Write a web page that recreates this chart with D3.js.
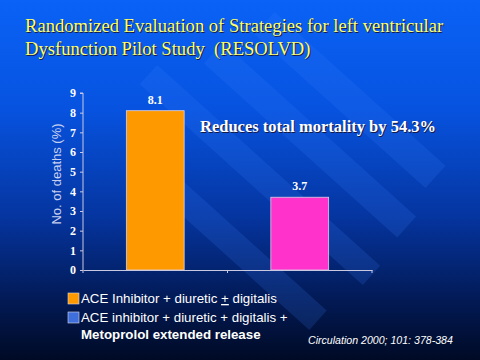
<!DOCTYPE html>
<html>
<head>
<meta charset="utf-8">
<script src="https://cdn.jsdelivr.net/npm/d3@7"></script>
<style>
  body { margin: 0; background: #000; }
  svg { display: block; }
  .serif { font-family: "Liberation Serif", "DejaVu Serif", serif; }
  .sans { font-family: "Liberation Sans", Arial, sans-serif; }
</style>
</head>
<body>
<div id="chart"></div>
<script>
var width = 480,
    height = 360;

// data
var categories = ["ACE Inhibitor + diuretic + digitalis", "ACE inhibitor + diuretic + digitalis + Metoprolol extended release"];
var deaths = [8.1, 3.7];
var barColors = ["#ff9900", "#ff33cc"];
var legendColors = ["#ff9900", "#3f6fdc"];
var yTicks = [0, 1, 2, 3, 4, 5, 6, 7, 8, 9];

var svg = d3.select("#chart").append("svg")
    .attr("width", width)
    .attr("height", height);

var defs = svg.append("defs");
var bg = defs.append("linearGradient")
    .attr("id", "bg")
    .attr("x1", 0).attr("y1", 0).attr("x2", 0).attr("y2", 1);
bg.append("stop").attr("offset", "0%").attr("stop-color", "#0a62f6");
bg.append("stop").attr("offset", "30%").attr("stop-color", "#0753e0");
bg.append("stop").attr("offset", "60%").attr("stop-color", "#0535a0");
bg.append("stop").attr("offset", "85%").attr("stop-color", "#021850");
bg.append("stop").attr("offset", "100%").attr("stop-color", "#000a25");

svg.append("rect")
    .attr("width", width)
    .attr("height", height)
    .attr("fill", "url(#bg)");

// diagonal light stripes of the slide template
var stripes = [
    {cx: 350, cy: 100, len: 230, w: 30},
    {cx: 310, cy: 140, len: 260, w: 28},
    {cx: 260, cy: 175, len: 300, w: 26},
    {cx: 240, cy: 250, len: 210, w: 26}
];
svg.append("g").selectAll("rect")
    .data(stripes)
    .enter().append("rect")
    .attr("x", function(d) { return -d.len / 2; })
    .attr("y", function(d) { return -d.w / 2; })
    .attr("width", function(d) { return d.len; })
    .attr("height", function(d) { return d.w; })
    .attr("transform", function(d) { return "translate(" + d.cx + "," + d.cy + ") rotate(42)"; })
    .attr("fill", "#3a80ff")
    .attr("opacity", 0.17);

// title
var titleLines = [["Randomized Evaluation of Strategies for left ventricular", 32],
                  ["Dysfunction Pilot Study  (RESOLVD)", 55]];
titleLines.forEach(function(t) {
    svg.append("text").attr("class", "serif").attr("x", 26).attr("y", t[1] + 1)
        .attr("fill", "#1a1a40").style("font-size", "18.6px")
        .attr("xml:space", "preserve").text(t[0]);
    svg.append("text").attr("class", "serif").attr("x", 25).attr("y", t[1])
        .attr("fill", "#ffff66").style("font-size", "18.6px")
        .attr("xml:space", "preserve").text(t[0]);
});

var margin = {left: 83, top: 93, right: 108, bottom: 90};

var x = d3.scaleBand()
    .domain(categories)
    .range([margin.left, width - margin.right])
    .paddingInner(0.6)
    .paddingOuter(0.3);

var y = d3.scaleLinear()
    .domain([0, 9])
    .range([height - margin.bottom, margin.top]);

// bars
svg.selectAll(".bar")
    .data(deaths)
    .enter().append("rect")
    .attr("class", "bar")
    .attr("x", function(d, i) { return x(categories[i]); })
    .attr("y", function(d) { return y(d); })
    .attr("width", x.bandwidth())
    .attr("height", function(d) { return y(0) - y(d); })
    .attr("fill", function(d, i) { return barColors[i]; })
    .attr("stroke", "#d8d0e8")
    .attr("stroke-width", 0.8);

svg.selectAll(".val")
    .data(deaths)
    .enter().append("text")
    .attr("class", "val serif")
    .attr("x", function(d, i) { return x(categories[i]) + x.bandwidth() / 2; })
    .attr("y", function(d) { return y(d) - 7; })
    .attr("text-anchor", "middle")
    .attr("fill", "#ffffff")
    .style("font-weight", "bold")
    .style("font-size", "12px")
    .text(function(d) { return d.toFixed(1); });

// axes
var yAxis = d3.axisLeft(y)
    .tickValues(yTicks)
    .tickSize(3)
    .tickPadding(4)
    .tickFormat(d3.format("d"));

var gy = svg.append("g")
    .attr("transform", "translate(" + margin.left + ",0)")
    .call(yAxis);
gy.select(".domain").attr("d", "M-3," + y(9) + "H0V" + y(0));

var xAxis = d3.axisBottom(x)
    .tickValues([])
    .tickSizeOuter(0);
var gx = svg.append("g")
    .attr("transform", "translate(0," + y(0) + ")")
    .call(xAxis);

// category separator ticks
var edges = [margin.left, (x(categories[0]) + x.bandwidth() + x(categories[1])) / 2, width - margin.right];
gx.selectAll(".sep")
    .data(edges)
    .enter().append("line")
    .attr("class", "sep")
    .attr("x1", function(d) { return d; })
    .attr("x2", function(d) { return d; })
    .attr("y1", 0)
    .attr("y2", 3);

svg.selectAll(".domain, .tick line, .sep")
    .attr("stroke", "#c8c8e0")
    .attr("stroke-width", 1);
gy.selectAll(".tick text")
    .attr("class", "serif")
    .attr("fill", "#ffffff")
    .style("font-family", "'Liberation Serif', serif")
    .style("font-weight", "bold")
    .style("font-size", "12px");

svg.append("text")
    .attr("class", "sans")
    .attr("transform", "translate(61,174) rotate(-90)")
    .attr("text-anchor", "middle")
    .attr("fill", "#c8d0f0")
    .style("font-size", "13px")
    .text("No. of deaths (%)");

// annotation
var note = "Reduces total mortality by 54.3%";
svg.append("text")
    .attr("class", "serif")
    .attr("x", 201).attr("y", 133)
    .attr("fill", "#1a1a40")
    .style("font-weight", "bold")
    .style("font-size", "16.5px")
    .text(note);
svg.append("text")
    .attr("class", "serif")
    .attr("x", 200).attr("y", 132)
    .attr("fill", "#ffffff")
    .style("font-weight", "bold")
    .style("font-size", "16.5px")
    .text(note);

// legend
var legend = svg.append("g")
    .attr("class", "sans")
    .style("font-size", "13.3px")
    .attr("fill", "#ffffff");

legend.selectAll("rect")
    .data(legendColors)
    .enter().append("rect")
    .attr("x", 68)
    .attr("y", function(d, i) { return 293 + i * 19; })
    .attr("width", 11)
    .attr("height", 11)
    .attr("fill", function(d) { return d; })
    .attr("stroke", "#d8d8e8")
    .attr("stroke-width", 0.6);

var l1 = legend.append("text").attr("x", 81).attr("y", 303);
l1.append("tspan").text("ACE Inhibitor + diuretic ");
l1.append("tspan").attr("text-decoration", "underline").text("+");
l1.append("tspan").text(" digitalis");
legend.append("text").attr("x", 81).attr("y", 322)
    .text("ACE inhibitor + diuretic + digitalis +");
legend.append("text").attr("x", 81).attr("y", 339)
    .style("font-weight", "bold")
    .text("Metoprolol extended release");

svg.append("text")
    .attr("class", "sans")
    .attr("x", 308)
    .attr("y", 344)
    .attr("fill", "#ffffff")
    .style("font-style", "italic")
    .style("font-size", "10.6px")
    .text("Circulation 2000; 101: 378-384");
</script>
</body>
</html>
